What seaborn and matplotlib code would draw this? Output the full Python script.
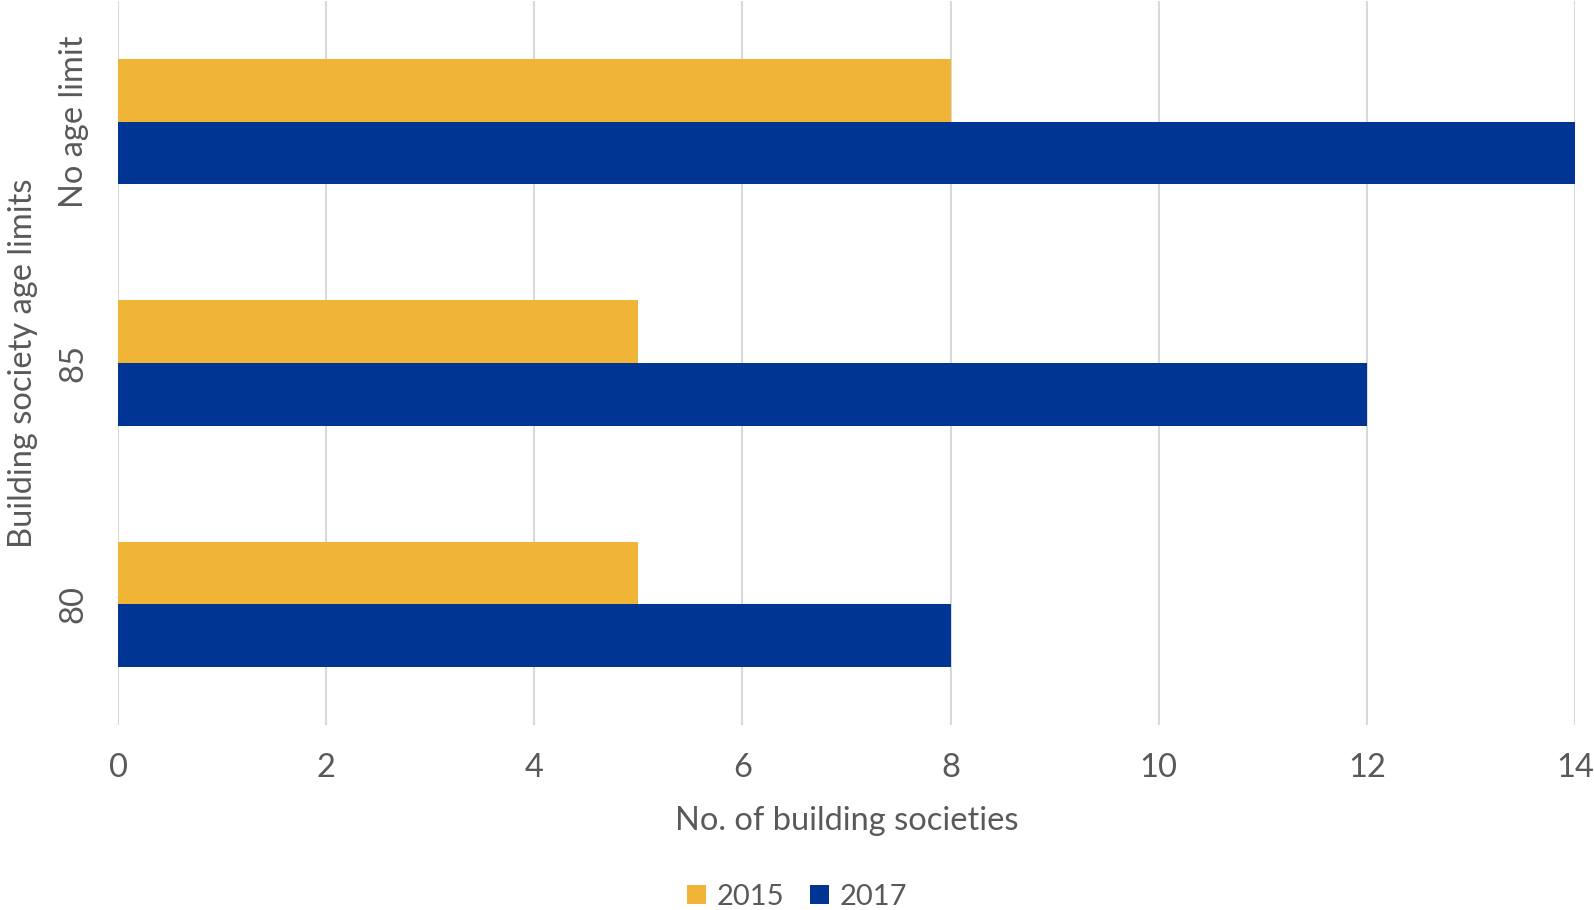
import matplotlib
matplotlib.use("Agg")
import matplotlib.pyplot as plt
from matplotlib.patches import Patch
import pandas as pd
import seaborn as sns

# data
age_limits = ["No age limit", "85", "80"]
years = ["2015", "2017"]
counts_2015 = [8, 5, 5]
counts_2017 = [14, 12, 8]
colors = ["#F0B436", "#003594"]
x_ticks = [0, 2, 4, 6, 8, 10, 12, 14]

df = pd.DataFrame({
    "age_limit": age_limits * 2,
    "year": [years[0]] * 3 + [years[1]] * 3,
    "count": counts_2015 + counts_2017,
})

sns.set_theme(style="white")
plt.rcParams["font.family"] = ["Lato", "DejaVu Sans"]
TXT = "#595959"
FS = 23.5

W, H = 1594, 910
fig = plt.figure(figsize=(W / 100, H / 100), dpi=100)
ax = fig.add_axes([118 / W, (H - 725) / H, (1575 - 118) / W, 724 / H])

sns.barplot(data=df, y="age_limit", x="count", hue="year", order=age_limits,
            hue_order=years, palette=colors, orient="h", width=0.52,
            saturation=1, linewidth=0, ax=ax, legend=False)

ax.set_xlim(0, 14)
ax.set_ylim(2.5, -0.5)
ax.set_xticks(x_ticks)
ax.xaxis.grid(True, color="#d9d9d9", linewidth=1.5)
ax.set_axisbelow(True)
for s in ax.spines.values():
    s.set_visible(False)
ax.tick_params(axis="both", length=0, labelsize=FS, labelcolor=TXT)
ax.tick_params(axis="x", pad=20)
ax.tick_params(axis="y", pad=21)
for lab in ax.get_yticklabels():
    lab.set_rotation(90)
    lab.set_va("center")

ax.set_xlabel("No. of building societies", fontsize=FS, color=TXT, labelpad=17)
ax.set_ylabel("Building society age limits", fontsize=FS, color=TXT, va="center")
ax.yaxis.set_label_coords((23 - 118) / (1575 - 118), 0.5)

handles = [Patch(facecolor=c, edgecolor="none") for c in colors]
fig.legend(handles, years, loc="center", bbox_to_anchor=(797 / W, 1 - 897 / H),
           ncol=2, frameon=False, fontsize=21, handlelength=0.65, handleheight=0.65,
           handletextpad=0.35, columnspacing=0.9, labelcolor=TXT)

fig.savefig("out.png", dpi=100)
